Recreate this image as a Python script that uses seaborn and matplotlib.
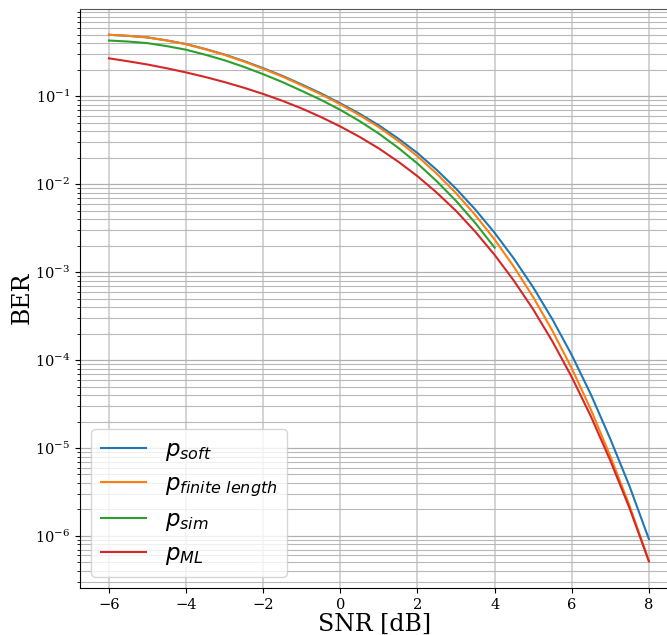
import numpy as np
import pandas as pd
import matplotlib
matplotlib.use("Agg")
import matplotlib.pyplot as plt
from matplotlib.font_manager import FontProperties
import seaborn as sns

snr = [-6, -5.5, -5, -4.5, -4, -3.5, -3, -2.5, -2, -1.5, -1, -0.5, 0, 0.5,
       1, 1.5, 2, 2.5, 3, 3.5, 4, 4.5, 5, 5.5, 6, 6.5, 7, 7.5, 8]
p_soft = [0.500, 0.4864, 0.4667, 0.4317, 0.3926, 0.3444, 0.2979, 0.2515,
          0.2084, 0.1703, 0.1361, 0.1077, 0.0830, 0.0632, 0.04667, 0.03309,
          0.02259, 0.01452, 0.008892, 0.00514, 0.002799, 0.001422, 6.714e-4,
          2.897e-4, 1.140e-4, 4.02e-5, 1.265e-5, 3.652e-6, 9.20e-7]
p_finite = [0.500, 0.4864, 0.4667, 0.4308, 0.3908, 0.3421, 0.2951, 0.2484,
            0.2051, 0.1671, 0.1330, 0.1051, 0.0809, 0.06094, 0.04446,
            0.03101, 0.02080, 0.01315, 0.007907, 0.004448, 0.00235,
            0.001149, 5.20e-4, 2.148e-4, 8.05e-5, 2.704e-5, 8.05e-6,
            2.197e-6, 5.20e-7]
snr_sim = [-6, -5.5, -5, -4.5, -4, -3.5, -3, -2.5, -2, -1.5, -1, -0.5, 0,
           0.5, 1, 1.5, 2, 2.5, 3, 3.5, 4]
p_sim = [0.4305, 0.4188, 0.4018, 0.3717, 0.3381, 0.2966, 0.2564, 0.2158,
         0.1782, 0.1448, 0.1151, 0.0909, 0.0700, 0.05212, 0.03758, 0.02593,
         0.01718, 0.01080, 0.006457, 0.003616, 0.001901]
p_ml = [0.270, 0.2498, 0.2296, 0.2081, 0.1866, 0.1655, 0.1449, 0.1250,
        0.1062, 0.0887, 0.0726, 0.0580, 0.0453, 0.0345, 0.02547, 0.01806,
        0.01233, 0.00801, 0.00497, 0.002877, 0.001570, 7.98e-4, 3.77e-4,
        1.626e-4, 6.40e-5, 2.268e-5, 7.18e-6, 2.057e-6, 5.14e-7]

labels = [r"$p_{soft}$", r"$p_{finite\ length}$", r"$p_{sim}$", r"$p_{ML}$"]
xs = [snr, snr, snr_sim, snr]
ys = [p_soft, p_finite, p_sim, p_ml]

frames = [pd.DataFrame({"SNR": x, "BER": y, "curve": lab})
          for x, y, lab in zip(xs, ys, labels)]
df = pd.concat(frames, ignore_index=True)

plt.rcParams["font.family"] = ["DejaVu Serif"]
plt.rcParams["mathtext.fontset"] = "dejavuserif"

fig = plt.figure(figsize=(6.67, 6.35), dpi=100)
ax = fig.add_axes([80 / 667, 47 / 635, 590 / 667, 579.5 / 635])

palette = sns.color_palette("tab10", 4)
sns.lineplot(data=df, x="SNR", y="BER", hue="curve", hue_order=labels,
             palette=palette, estimator=None, sort=False, linewidth=1.5,
             ax=ax)
ax.set_yscale("log")
ax.set_xlim(-6.75, -6.75 + 590 / 38.57)
ax.set_ylim(10 ** -6.592, 10 ** -0.002)
ax.set_xticks([-6, -4, -2, 0, 2, 4, 6, 8])

ax.grid(True, which="major", axis="x", color="#cccccc", linewidth=1.2)
ax.grid(True, which="major", axis="y", color="#b0b0b0", linewidth=0.9)
ax.grid(True, which="minor", axis="y", color="#b8b8b8", linewidth=0.8)
ax.set_axisbelow(True)

ax.spines["right"].set_visible(False)
ax.spines["top"].set_color("#555555")
ax.tick_params(axis="both", which="major", labelsize=10.5)

ax.set_xlabel("SNR [dB]", fontsize=17, labelpad=0.5)
ax.set_ylabel("BER", fontsize=17, labelpad=1)

handles, labs = ax.get_legend_handles_labels()
prop = FontProperties(family="DejaVu Sans", size=16.5, math_fontfamily="dejavusans")
ax.legend(handles, labs, loc="lower left", prop=prop, labelspacing=0.4)

fig.savefig("out.png", dpi=100)
